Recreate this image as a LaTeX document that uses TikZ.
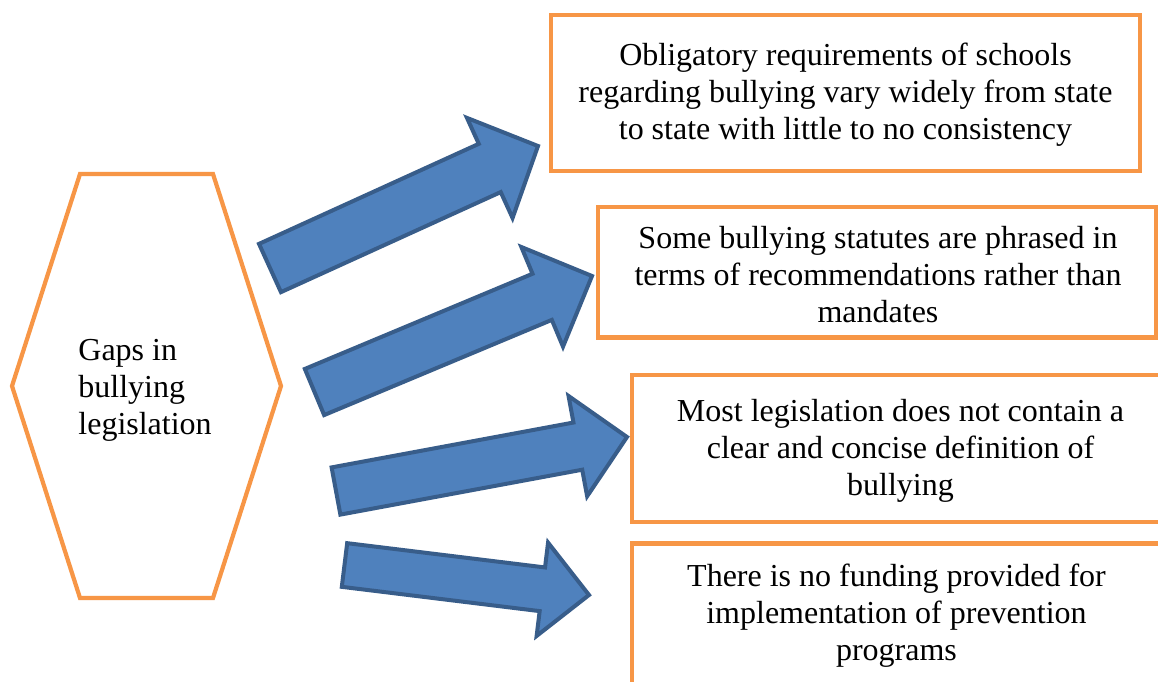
\documentclass[tikz,border=0pt]{standalone}
\usepackage{fontspec}
\setmainfont{Liberation Serif}
\usetikzlibrary{calc}
\definecolor{borange}{HTML}{F79646}
\definecolor{afill}{HTML}{4F81BD}
\definecolor{aedge}{HTML}{385D8A}
\tikzset{
  box/.style={draw=borange, line width=2.1pt, fill=white, inner sep=0pt},
  hexline/.style={draw=borange, line width=2.1pt},
  blockarrow/.style={draw=aedge, fill=afill, line width=2pt, line join=miter},
  txt/.style={inner sep=0pt, font=\fontsize{16pt}{18.5pt}\selectfont}
}
\newcommand\blockarr[6]{%
  \coordinate (#1t) at #2;
  \coordinate (#1h) at #3;
  \coordinate (#1b) at ($(#1h)!#6!(#1t)$);
  \draw[blockarrow] ($(#1t)!#4!90:(#1h)$) -- ($(#1b)!#4!-90:(#1t)$)
     -- ($(#1b)!#5!-90:(#1t)$) -- (#1h) -- ($(#1b)!#5!90:(#1t)$)
     -- ($(#1b)!#4!90:(#1t)$) -- ($(#1t)!#4!-90:(#1h)$) -- cycle;
}
\begin{document}
\begin{tikzpicture}[x=0.5pt, y=-0.5pt]
  \useasboundingbox (0,0) rectangle (1158,681);
  \fill[white] (0,0) rectangle (1158,681);
  \clip (0,0) rectangle (1158,681);

  % hexagon
  \draw[hexline] (80,174) -- (213,174) -- (281,386) -- (213,598) -- (80,598) -- (12,386) -- cycle;
  \node[txt, anchor=west, align=left] (gap) at (78,389.6)
    {\strut Gaps in\\\strut bullying\\\strut legislation};

  % arrows
  \blockarr{a1}{(270,268)}{(538,146)}{13.25pt}{27.5pt}{26.5pt}
  \blockarr{a2}{(314.5,392)}{(592,276)}{12.5pt}{27pt}{27pt}
  \blockarr{a3}{(336,491)}{(627,437)}{12pt}{25.5pt}{25pt}
  \blockarr{a4}{(344.5,565)}{(589,595)}{11pt}{23.5pt}{23.5pt}

  % boxes
  \node[box, minimum width=294.5pt, minimum height=78pt] (b1) at (845.5,93) {};
  \node[box, minimum width=279pt, minimum height=65.25pt] (b2) at (877,272.25) {};
  \node[box, minimum width=268.5pt, minimum height=73.5pt] (b3) at (900.5,448.5) {};
  \node[box, minimum width=264.5pt, minimum height=73pt] (b4) at (896.5,616.5) {};

  % texts
  \node[txt, align=center] (t1) at (845.5,94.6)
    {\strut Obligatory requirements of schools\\\strut regarding bullying vary widely from state\\\strut to state with little to no consistency};
  \node[txt, align=center] (t2) at (878,278.5)
    {\strut Some bullying statutes are phrased in\\\strut terms of recommendations rather than\\\strut mandates};
  \node[txt, align=center] (t3) at (900.5,450.6)
    {\strut Most legislation does not contain a\\\strut clear and concise definition of\\\strut bullying};
  \node[txt, align=center] (t4) at (896.5,616)
    {\strut There is no funding provided for\\\strut implementation of prevention\\\strut programs};
\end{tikzpicture}
\end{document}
